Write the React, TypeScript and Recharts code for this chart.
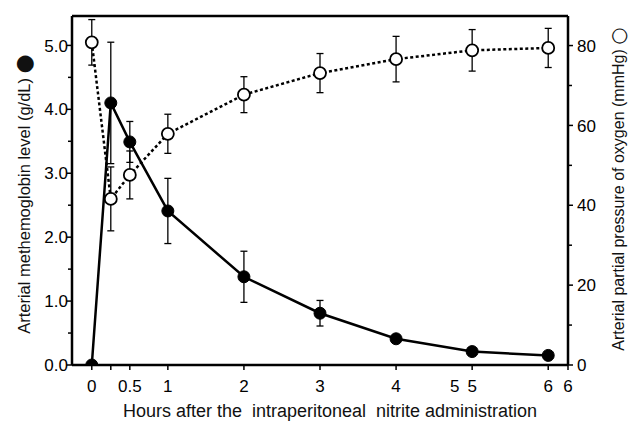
import React from 'react';
import { ComposedChart, Line, XAxis, YAxis, ErrorBar, ReferenceLine } from 'recharts';

// Hours after administration
const hours = [0, 0.25, 0.5, 1, 2, 3, 4, 5, 6];
// Arterial methemoglobin (g/dL), filled circles
const methemoglobin = [0.0, 4.1, 3.49, 2.41, 1.38, 0.81, 0.41, 0.21, 0.15];
const methemoglobinErr = [0, 0.95, 0.32, 0.51, 0.4, 0.2, 0.05, 0.03, 0.02];
// Arterial PaO2 (mmHg), open circles
const pao2 = [80.8, 41.6, 47.6, 57.9, 67.7, 73.1, 76.6, 78.8, 79.4];
const pao2Err = [5.7, 8, 6, 4.9, 4.5, 4.9, 5.7, 5.2, 4.9];

const xDomain = [-0.26, 6.26];
const xTicks = [0, 0.25, 0.5, 1, 2, 3, 4, 4.77, 5, 6, 6.26];
const xTickLabels = ['0', '', '0.5', '1', '2', '3', '4', '5', '5', '6', '6'];
const xTicksNoLine = [4.77];

const leftDomain = [0, 5.46];
const leftTicks = [0, 0.5, 1, 1.5, 2, 2.5, 3, 3.5, 4, 4.5, 5];
const leftMajor = [0, 1, 2, 3, 4, 5];

const rightDomain = [0, 87.4];
const rightTicks = [0, 10, 20, 30, 40, 50, 60, 70, 80];
const rightMajor = [0, 20, 40, 60, 80];

const data = hours.map((t, i) => ({
  t,
  mh: methemoglobin[i],
  mhErr: methemoglobinErr[i],
  po2: pao2[i],
  po2Err: pao2Err[i],
}));

const FONT = '"Liberation Sans", Arial, sans-serif';
const TICK_SIZE = 17;

const XTick = (props: any) => {
  const { x, y, payload } = props;
  const idx = xTicks.indexOf(payload.value);
  const label = idx >= 0 ? xTickLabels[idx] : '';
  const showLine = !xTicksNoLine.includes(payload.value);
  return (
    <g>
      {showLine && <line x1={x} y1={y} x2={x} y2={y + 5} stroke="#000" strokeWidth={1.5} />}
      <text x={x} y={y + 27} textAnchor="middle" fontSize={TICK_SIZE} fontFamily={FONT} fill="#000">
        {label}
      </text>
    </g>
  );
};

const LeftTick = (props: any) => {
  const { x, y, payload } = props;
  const major = leftMajor.includes(payload.value);
  return (
    <g>
      <line x1={x} y1={y} x2={x - (major ? 5 : 4)} y2={y} stroke="#000" strokeWidth={1.5} />
      {major && (
        <text x={x - 4} y={y} dy="0.36em" textAnchor="end" fontSize={TICK_SIZE} fontFamily={FONT} fill="#000">
          {payload.value.toFixed(1)}
        </text>
      )}
    </g>
  );
};

const RightTick = (props: any) => {
  const { x, y, payload } = props;
  const major = rightMajor.includes(payload.value);
  return (
    <g>
      <line x1={x} y1={y} x2={x + (major ? 5 : 4)} y2={y} stroke="#000" strokeWidth={1.5} />
      {major && (
        <text x={x + 9} y={y} dy="0.36em" textAnchor="start" fontSize={TICK_SIZE} fontFamily={FONT} fill="#000">
          {payload.value}
        </text>
      )}
    </g>
  );
};

const XTitle = () => (
  <text x={330} y={417} textAnchor="middle" fontSize={18} fontFamily={FONT} fill="#111">
    {'Hours after the\u00a0 intraperitoneal\u00a0 nitrite administration'}
  </text>
);

const LeftTitle = () => (
  <text x={0} y={0} transform="translate(30,194) rotate(-90)" textAnchor="middle" fontSize={16.5} fontFamily={FONT} fill="#111">
    {'Arterial methemoglobin level (g/dL) '}
    <tspan fontSize={22} fontFamily='"DejaVu Sans"' dy={1}>{'\u25CF'}</tspan>
  </text>
);

const RightTitle = () => (
  <text x={0} y={0} transform="translate(624,189) rotate(-90)" textAnchor="middle" fontSize={16} fontFamily={FONT} fill="#111">
    {'Arterial partial pressure of oxygen (mmHg) '}
    <tspan fontSize={20} fontFamily='"DejaVu Sans"' dy={1}>{'\u25CB'}</tspan>
  </text>
);

export default function App() {
  return (
    <div style={{ position: 'absolute', left: 0, top: 0, width: 634, height: 425, background: '#fff' }}>
      <ComposedChart width={634} height={425} data={data} margin={{ top: 16, right: 0, bottom: 0, left: 0 }}>
        <XAxis
          dataKey="t"
          type="number"
          domain={xDomain}
          ticks={xTicks}
          interval={0}
          allowDataOverflow
          height={60}
          tickSize={0}
          tickMargin={0}
          tick={<XTick />}
          axisLine={{ stroke: '#000', strokeWidth: 2.5 }}
          label={<XTitle />}
        />
        <YAxis
          yAxisId="left"
          orientation="left"
          type="number"
          domain={leftDomain}
          ticks={leftTicks}
          interval={0}
          allowDataOverflow
          width={72}
          tickSize={0}
          tickMargin={0}
          tick={<LeftTick />}
          axisLine={{ stroke: '#000', strokeWidth: 2.5 }}
          label={<LeftTitle />}
        />
        <YAxis
          yAxisId="right"
          orientation="right"
          type="number"
          domain={rightDomain}
          ticks={rightTicks}
          interval={0}
          allowDataOverflow
          width={66}
          tickSize={0}
          tickMargin={0}
          tick={<RightTick />}
          axisLine={{ stroke: '#000', strokeWidth: 2.5 }}
          label={<RightTitle />}
        />
        <ReferenceLine yAxisId="left" y={leftDomain[1]} stroke="#000" strokeWidth={2.5} />
        <Line
          yAxisId="right"
          dataKey="po2"
          type="linear"
          stroke="#000"
          strokeWidth={2.5}
          strokeDasharray="3 2.5"
          dot={{ r: 6, fill: '#fff', stroke: '#000', strokeWidth: 1.8, strokeDasharray: 'none' }}
          isAnimationActive={false}
        >
          <ErrorBar dataKey="po2Err" direction="y" width={3.5} stroke="#000" strokeWidth={1.3} strokeDasharray="none" />
        </Line>
        <Line
          yAxisId="left"
          dataKey="mh"
          type="linear"
          stroke="#000"
          strokeWidth={2.5}
          dot={{ r: 6, fill: '#000', stroke: '#000', strokeWidth: 1 }}
          isAnimationActive={false}
        >
          <ErrorBar dataKey="mhErr" direction="y" width={3.5} stroke="#000" strokeWidth={1.3} />
        </Line>
      </ComposedChart>
    </div>
  );
}
